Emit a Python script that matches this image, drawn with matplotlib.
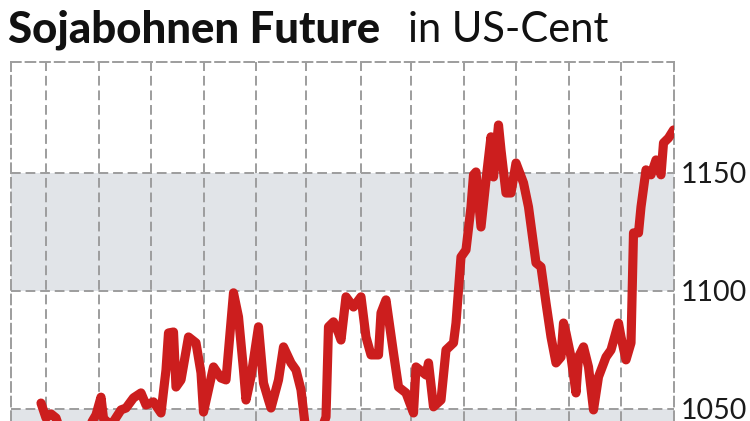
import matplotlib
matplotlib.use("Agg")
import matplotlib.pyplot as plt

# ---- data ----
days = [0, 2, 4, 6, 8, 14, 19, 22, 24, 25, 28, 32, 34, 37, 40, 42, 45, 48, 50, 51,
        53, 54, 56, 59, 62, 64, 65, 69, 72, 74, 77, 79, 81, 82, 84, 87, 89, 91, 92, 95,
        97, 100, 102, 104, 106, 110, 114, 115, 117, 119, 120, 122, 125, 128, 130, 132, 135, 136, 138, 141,
        143, 146, 149, 150, 154, 155, 157, 160, 162, 165, 166, 168, 170, 172, 173, 174, 176, 178, 180, 181,
        183, 184, 186, 188, 190, 193, 195, 198, 200, 202, 204, 206, 208, 209, 210, 212, 214, 215, 217, 219,
        221, 223, 226, 228, 231, 232, 234, 236, 237, 239, 240, 242, 244, 246, 248, 249, 251, 253]
prices = [1052.5, 1046.2, 1047.9, 1046.2, 1040.0, 1038.0, 1042.0, 1047.5, 1055.0, 1046.0,
          1043.0, 1049.6, 1050.4, 1054.7, 1056.8, 1051.7, 1053.0, 1048.3, 1066.5, 1082.2,
          1082.6, 1059.3, 1062.3, 1080.5, 1078.0, 1065.3, 1048.7, 1067.8, 1063.1, 1062.3,
          1099.2, 1089.0, 1066.5, 1053.8, 1063.6, 1084.8, 1061.0, 1053.8, 1050.4, 1062.3,
          1076.3, 1069.5, 1066.5, 1058.1, 1040.0, 1035.0, 1046.6, 1084.8, 1086.9, 1082.2,
          1079.2, 1097.5, 1093.2, 1097.5, 1080.5, 1072.9, 1072.9, 1090.7, 1096.2, 1073.7,
          1059.3, 1056.8, 1048.3, 1067.8, 1064.4, 1069.5, 1050.9, 1053.8, 1075.0, 1078.0,
          1086.4, 1114.4, 1117.4, 1135.6, 1149.2, 1150.4, 1127.1, 1147.0, 1165.3, 1148.3,
          1170.3, 1159.7, 1141.5, 1141.5, 1154.2, 1145.8, 1135.6, 1111.9, 1110.2, 1094.9,
          1080.5, 1069.5, 1072.0, 1086.4, 1082.2, 1072.0, 1056.8, 1072.0, 1076.3, 1067.8,
          1049.6, 1063.6, 1072.0, 1075.0, 1086.4, 1080.5, 1070.8, 1078.0, 1124.6, 1124.6,
          1135.6, 1151.3, 1149.2, 1155.5, 1149.2, 1162.7, 1164.8, 1168.2]
month_starts = [2, 23, 44, 65, 86, 106, 128, 148, 169, 190, 211, 232]
y_ticks = [1050, 1100, 1150]
y_tick_labels = ["1050", "1100", "1150"]
title_bold = "Sojabohnen Future"
title_light = "in US-Cent"

# ---- figure ----
W, H = 750, 421
fig = plt.figure(figsize=(W / 100, H / 100), dpi=100)
fig.patch.set_facecolor("white")
ax = fig.add_axes([11 / W, 0, (674 - 11) / W, 1 - 62 / H])

xmin, xmax = -12, 253.2
ymin, ymax = 1044.9, 1197
ax.set_xlim(xmin, xmax)
ax.set_ylim(ymin, ymax)

band = "#e1e4e8"
grid_c = "#9d9d9d"
dash = (0, (5, 2.5))
# shaded bands
ax.axhspan(1100, 1150, color=band, zorder=0, lw=0)
ax.axhspan(1000, 1050, color=band, zorder=0, lw=0)

for yv in y_ticks:
    ax.axhline(yv, color=grid_c, lw=1.4, linestyle=dash, zorder=1)
for xv in month_starts:
    ax.axvline(xv, color=grid_c, lw=1.4, linestyle=dash, zorder=1)

for side in ["left", "right", "top"]:
    ax.spines[side].set_color(grid_c)
    ax.spines[side].set_linewidth(1.4)
    ax.spines[side].set_linestyle(dash)
ax.spines["bottom"].set_visible(False)

ax.plot(days, prices, color="#cc1e1e", lw=6.6, solid_joinstyle="round",
        solid_capstyle="round", zorder=3, clip_on=True)

ax.set_xticks([])
ax.yaxis.tick_right()
ax.set_yticks(y_ticks)
ax.set_yticklabels(y_tick_labels, fontsize=20.5, family="Lato", color="#1a1a1a")
ax.tick_params(axis="y", length=0, pad=5)

fig.text(8 / W, 1 - 42 / H, title_bold, fontsize=31.5, fontweight="black",
         family="Lato", color="#111111", va="baseline", ha="left")
fig.text(408 / W, 1 - 42 / H, title_light, fontsize=30, fontweight="normal",
         family="Lato", color="#111111", va="baseline", ha="left")

fig.savefig("out.png", dpi=100, facecolor="white")
